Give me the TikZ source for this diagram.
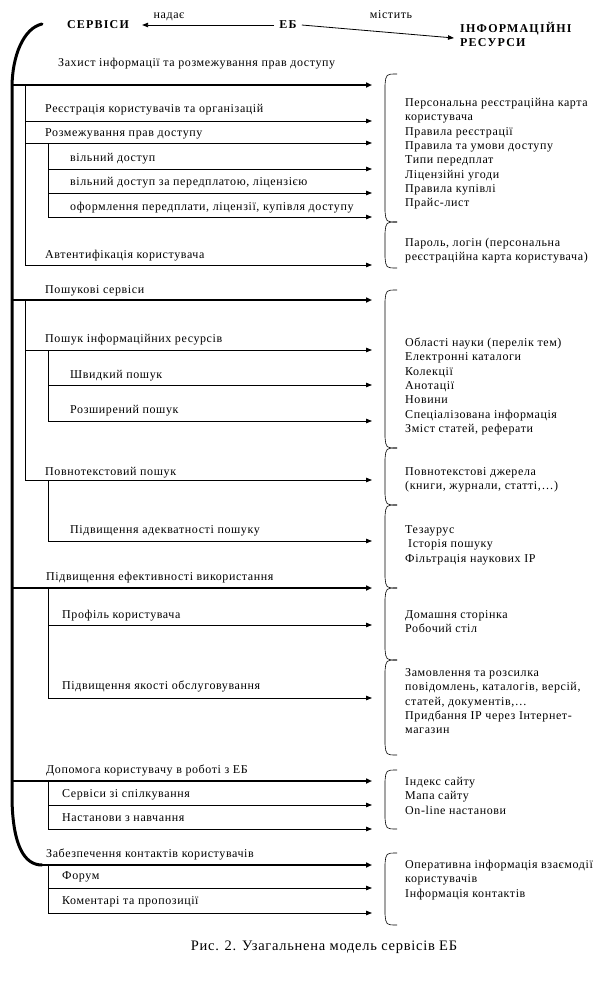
\documentclass[tikz,border=0pt]{standalone}
\usepackage{fontspec}
\setmainfont{Liberation Serif}[LetterSpace=5]
\newfontfamily\headfont{Liberation Serif}[LetterSpace=10]
\usetikzlibrary{arrows.meta}

\begin{document}
\begin{tikzpicture}[x=1pt, y=-1pt,
  lbl/.style={anchor=base west, inner sep=0pt, font=\fontsize{12}{14}\selectfont},
  res/.style={anchor=base west, inner sep=0pt, font=\fontsize{12}{14}\selectfont},
  head/.style={inner xsep=5pt, inner ysep=0pt, font=\fontsize{12}{14}\selectfont\headfont\bfseries},
  thinarr/.style={line width=0.8pt, -{Triangle[length=6pt,width=4.5pt]}},
  thickarr/.style={line width=2.4pt, -{Triangle[length=6pt,width=5pt]}},
  link/.style={line width=0.8pt},
  spine/.style={line width=3pt, line cap=round},
  brk/.style={line width=0.6pt}
]
\useasboundingbox (0,0) rectangle (614,986);

% header
\node[head] (srv) at (98,25) {СЕРВІСИ};
\node[head] (eb) at (288,25) {ЕБ};
\node[head, anchor=west, align=left, inner xsep=0pt] (inf) at (460,34) {ІНФОРМАЦІЙНІ\\РЕСУРСИ};
\node[lbl, anchor=base] (nad) at (169,18) {надає};
\node[lbl, anchor=base] (mist) at (391,18) {містить};
\draw[thinarr] (eb.west) -- ([xshift=8pt]srv.east);
\draw[thinarr] (eb.east) -- ([xshift=-6pt,yshift=-4pt]inf.west);

% main spine
\coordinate (sp-top) at (42,24);
\coordinate (sp-bot) at (42,865);
\draw[spine] (sp-top) .. controls (24,28) and (12,55) .. (12,88)
  -- (12,800) .. controls (13,845) and (24,865) .. (sp-bot);

% main services
\foreach \n/\sx/\lx/\ly/\y/\txt in {
  zah/12/58/66/85/{Захист інформації та розмежування прав доступу},
  posh/12/45/293/300/{Пошукові сервіси},
  efekt/12/46/580/588/{Підвищення ефективності використання},
  dop/12/46/773/781/{Допомога користувачу в роботі з ЕБ},
  zab/42/46/857/865/{Забезпечення контактів користувачів}}{
  \coordinate (\n-s) at (\sx,\y);
  \coordinate (\n-e) at (372,\y);
  \node[lbl] (\n-l) at (\lx,\ly) {\txt};
  \draw[thickarr] (\n-s) -- (\n-e);
}

% sub services
\foreach \n/\sx/\lx/\ly/\y/\txt in {
  reg/25/45/112/121/{Реєстрація користувачів та організацій},
  roz/25/45/136/143/{Розмежування прав доступу},
  vil/48/70/161/169/{вільний доступ},
  pered/48/70/185/193/{вільний доступ за передплатою, ліцензією},
  oform/48/70/210/217/{оформлення передплати, ліцензії, купівля доступу},
  avt/25/45/258/265/{Автентифікація користувача},
  poshir/25/45/342/350/{Пошук інформаційних ресурсів},
  shv/48/70/378/385/{Швидкий пошук},
  rozsh/48/70/413/421/{Розширений пошук},
  povn/25/45/475/480/{Повнотекстовий пошук},
  adek/48/70/533/541/{Підвищення адекватності пошуку},
  prof/48/62/618/625/{Профіль користувача},
  yak/48/62/689/698/{Підвищення якості обслуговування},
  spil/48/62/797/805/{Сервіси зі спілкування},
  nast/48/62/821/829/{Настанови з навчання},
  forum/48/62/879/888/{Форум},
  kom/48/62/904/913/{Коментарі та пропозиції}}{
  \coordinate (\n-s) at (\sx,\y);
  \coordinate (\n-e) at (372,\y);
  \node[lbl] (\n-l) at (\lx,\ly) {\txt};
  \draw[thinarr] (\n-s) -- (\n-e);
}

% vertical links
\coordinate (zah-a) at (25,85);
\coordinate (roz-a) at (48,143);
\coordinate (posh-a) at (25,300);
\coordinate (poshir-a) at (48,350);
\coordinate (povn-a) at (48,480);
\coordinate (efekt-a) at (48,588);
\coordinate (dop-a) at (48,781);
\coordinate (zab-a) at (48,865);
\draw[link] (zah-a) -- (avt-s);
\draw[link] (roz-a) -- (oform-s);
\draw[link] (posh-a) -- (povn-s);
\draw[link] (poshir-a) -- (rozsh-s);
\draw[link] (povn-a) -- (adek-s);
\draw[link] (efekt-a) -- (yak-s);
\draw[link] (dop-a) -- (nast-s);
\draw[link] (zab-a) -- (kom-s);

% brackets
\foreach \a/\b in {74/222, 222/268, 290/448, 448/505, 505/588, 588/660,
  660/755, 770/829, 853/925}{
  \draw[brk] (397,\a) .. controls (386,\a) .. (385,\a+11)
    -- (385,\b-11) .. controls (386,\b) .. (397,\b);
}

% resources
\foreach \txt [count=\i from 0] in {Персональна реєстраційна карта, користувача,
  Правила реєстрації, Правила та умови доступу, Типи передплат,
  Ліцензійні угоди, Правила купівлі, Прайс-лист}
  \node[res] (ra\i) at (405,{106.5+14.3*\i}) {\txt};
\foreach \txt [count=\i from 0] in {{Пароль, логін (персональна},
  реєстраційна карта користувача)}
  \node[res] (rb\i) at (405,{246.5+14.3*\i}) {\txt};
\foreach \txt [count=\i from 0] in {Області науки (перелік тем),
  Електронні каталоги, Колекції, Анотації, Новини,
  Спеціалізована інформація, {Зміст статей, реферати}}
  \node[res] (rc\i) at (405,{346.5+14.3*\i}) {\txt};
\foreach \txt [count=\i from 0] in {Повнотекстові джерела,
  {(книги, журнали, статті,\ldots)}}
  \node[res] (rd\i) at (405,{475.5+14.3*\i}) {\txt};
\foreach \txt [count=\i from 0] in {Тезаурус, \hspace{3pt}Історія пошуку,
  Фільтрація наукових ІР}
  \node[res] (re\i) at (405,{533.5+14.3*\i}) {\txt};
\foreach \txt [count=\i from 0] in {Домашня сторінка, Робочий стіл}
  \node[res] (rf\i) at (405,{618.5+14.3*\i}) {\txt};
\foreach \txt [count=\i from 0] in {Замовлення та розсилка,
  {повідомлень, каталогів, версій,}, {статей, документів,\ldots},
  Придбання ІР через Інтернет-, магазин}
  \node[res] (rg\i) at (405,{676.5+14.3*\i}) {\txt};
\foreach \txt [count=\i from 0] in {Індекс сайту, Мапа сайту, On-line настанови}
  \node[res] (rh\i) at (405,{785.5+14.3*\i}) {\txt};
\foreach \txt [count=\i from 0] in {Оперативна інформація взаємодії,
  користувачів, Інформація контактів}
  \node[res] (ri\i) at (405,{868.5+14.3*\i}) {\txt};

% caption
\node[inner sep=0pt, font=\fontsize{14.5}{16}\selectfont] (cap) at (324,947)
  {Рис. 2. Узагальнена модель сервісів ЕБ};
\end{tikzpicture}
\end{document}
